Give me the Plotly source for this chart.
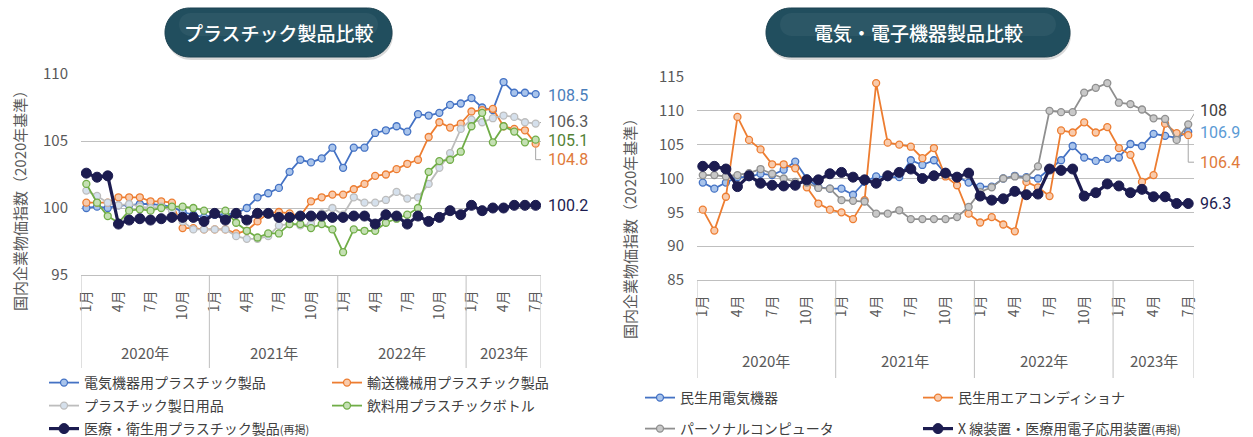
import plotly.graph_objects as go

W, H = 1253, 437
FONT = "Noto Sans CJK JP"
NUMFONT = "Roboto"

# ---- data: monthly index, Jan 2020 .. Jul 2023 ----
years = ["2020年", "2021年", "2022年", "2023年"]
months_per_year = [12, 12, 12, 7]
month_tick_text = ["1月", "4月", "7月", "10月"] * 3 + ["1月", "4月", "7月"]

# Plastic products
plastic_electric = [100.0, 100.1, 100.0, 100.2, 100.2, 100.3, 100.3, 100.2, 100.1, 99.7, 99.5, 99.3,
                    99.5, 99.5, 99.6, 100.0, 100.8, 101.1, 101.5, 102.7, 103.6, 103.4, 103.7, 104.5,
                    103.0, 104.5, 104.5, 105.6, 105.8, 106.1, 105.7, 107.0, 106.9, 107.1, 107.7, 107.8,
                    108.2, 107.5, 107.3, 109.4, 108.6, 108.6, 108.5]
plastic_transport = [100.4, 100.4, 100.4, 100.8, 100.8, 100.8, 100.5, 100.5, 100.4, 98.5, 98.5, 98.4,
                     98.4, 98.4, 98.1, 98.3, 99.0, 99.6, 99.7, 99.6, 99.4, 100.5, 100.8, 101.0,
                     101.0, 101.4, 101.8, 102.4, 102.5, 102.9, 103.3, 103.6, 105.3, 106.4, 106.0, 106.3,
                     107.2, 107.3, 107.4, 106.1, 105.9, 105.8, 104.8]
plastic_household = [101.3, 100.9, 100.4, 100.2, 100.3, 100.1, 100.0, 100.1, 99.8, 99.0, 98.4, 98.4,
                     98.4, 98.4, 97.9, 97.7, 97.7, 97.9, 98.7, 98.8, 98.7, 98.8, 99.6, 100.0,
                     99.5, 100.8, 100.4, 100.4, 100.6, 101.2, 100.7, 100.8, 101.8, 103.0, 104.1, 105.9,
                     106.6, 106.4, 106.7, 106.9, 106.8, 106.4, 106.3]
plastic_bottle = [101.8, 100.4, 99.4, 98.9, 99.8, 99.9, 99.8, 100.0, 100.1, 100.1, 100.0, 99.8,
                  99.6, 99.8, 98.9, 98.3, 97.8, 98.1, 98.1, 98.8, 98.8, 98.5, 98.8, 98.4,
                  96.7, 98.4, 98.3, 98.3, 98.9, 99.2, 99.5, 100.0, 102.7, 103.5, 103.6, 104.2,
                  106.1, 107.1, 104.9, 106.1, 105.7, 104.9, 105.1]
plastic_medical = [102.6, 102.3, 102.4, 98.8, 99.1, 99.2, 99.1, 99.2, 99.3, 99.3, 99.3, 99.0,
                   99.6, 99.1, 99.6, 99.1, 99.6, 99.6, 99.3, 99.3, 99.4, 99.4, 99.4, 99.3,
                   99.3, 99.4, 99.4, 98.8, 99.5, 99.4, 98.8, 99.4, 99.0, 99.3, 99.8, 99.5,
                   100.2, 99.8, 100.0, 100.0, 100.2, 100.2, 100.2]

# Electrical / electronic equipment
elec_appliance = [99.4, 98.5, 99.4, 100.2, 100.2, 100.7, 100.5, 101.3, 102.5, 100.0, 98.7, 98.5,
                  98.5, 97.6, 99.5, 100.3, 100.2, 100.2, 102.7, 102.0, 102.7, 100.7, 100.3, 99.4,
                  98.8, 98.8, 100.0, 100.4, 100.2, 100.0, 101.4, 102.7, 104.8, 103.1, 102.6, 102.9,
                  103.1, 105.1, 104.8, 106.6, 106.3, 106.0, 106.9]
elec_aircon = [95.4, 92.3, 97.3, 109.1, 105.7, 104.3, 102.1, 102.1, 101.5, 98.7, 96.3, 95.4,
               95.0, 94.0, 96.8, 114.1, 105.3, 105.0, 104.7, 103.0, 104.5, 100.3, 99.0, 94.8,
               93.5, 94.3, 93.2, 92.2, 99.5, 98.7, 97.4, 107.1, 106.8, 108.3, 106.8, 107.6,
               104.5, 103.5, 99.5, 100.5, 108.1, 106.7, 106.4]
elec_pc = [100.5, 100.5, 100.3, 100.5, 100.8, 101.4, 100.7, 100.0, 99.5, 99.4, 98.6, 98.5,
           96.8, 96.7, 96.6, 94.8, 94.8, 95.3, 94.0, 94.0, 94.0, 94.0, 94.3, 95.8,
           98.0, 98.7, 100.0, 100.3, 100.1, 101.8, 110.0, 109.8, 109.8, 112.7, 113.4, 114.1,
           111.2, 111.0, 110.2, 108.9, 108.8, 105.7, 108.0]
elec_xray = [101.8, 101.8, 101.4, 98.8, 100.4, 99.3, 99.0, 98.9, 99.0, 99.8, 99.8, 100.7,
             100.9, 100.2, 99.8, 99.3, 100.4, 100.9, 101.4, 100.0, 100.4, 100.8, 100.2, 100.8,
             97.4, 96.8, 97.0, 98.1, 97.6, 97.7, 101.4, 101.2, 101.4, 97.4, 97.9, 99.2,
             98.9, 97.9, 98.4, 97.3, 97.3, 96.3, 96.3]

n_months = sum(months_per_year)
idx = list(range(n_months))
tick_vals = idx[::3]


def px_x(p):
    return p / W


def px_y(p):
    return 1 - p / H


fig = go.Figure()


def add_series(y, name, color, fill, xa, ya, legend, width=1.8, size=7, mline=1.3):
    fig.add_trace(go.Scatter(
        x=idx, y=y, name=name, mode="lines+markers",
        line=dict(color=color, width=width),
        marker=dict(size=size, color=fill, line=dict(color=color, width=mline)),
        xaxis=xa, yaxis=ya, legend=legend, hoverinfo="skip"))


SMALL = "<span style='font-size:11px'>(再掲)</span>"

# left panel
add_series(plastic_electric, "電気機器用プラスチック製品", "#4472C4", "#A9C4EB", "x", "y", "legend")
add_series(plastic_transport, "輸送機械用プラスチック製品", "#ED7D31", "#F8CBAD", "x", "y", "legend")
add_series(plastic_household, "プラスチック製日用品", "#BDBDBD", "#D5E0EC", "x", "y", "legend2")
add_series(plastic_bottle, "飲料用プラスチックボトル", "#70AD47", "#C5E0B4", "x", "y", "legend2")
add_series(plastic_medical, "医療・衛生用プラスチック製品" + SMALL, "#1C1C50", "#1C1C50",
           "x", "y", "legend3", width=3.2, size=10, mline=1)

# right panel
add_series(elec_appliance, "民生用電気機器", "#4472C4", "#A9C4EB", "x2", "y2", "legend4")
add_series(elec_aircon, "民生用エアコンディショナ", "#ED7D31", "#F8CBAD", "x2", "y2", "legend4")
add_series(elec_pc, "パーソナルコンピュータ", "#8F8F8F", "#C8C8C8", "x2", "y2", "legend5")
add_series(elec_xray, "X 線装置・医療用電子応用装置" + SMALL, "#1C1C50", "#1C1C50",
           "x2", "y2", "legend5", width=3.2, size=10, mline=1)

grid = "#BFBFBF"
tickfont = dict(family=FONT, size=15, color="#595959")
monthfont = dict(family=FONT, size=14, color="#595959")

common_x = dict(range=[-0.5, n_months - 0.5], tickmode="array", tickvals=tick_vals,
                ticktext=month_tick_text, tickangle=-90, showgrid=False, zeroline=False,
                showline=True, linecolor=grid, linewidth=1, ticks="", tickfont=monthfont,
                ticklabelstandoff=9)
common_y = dict(dtick=5, showgrid=True, gridcolor=grid, gridwidth=1, zeroline=False,
                showline=False, ticks="", tickfont=tickfont, ticklabelstandoff=12)

fig.update_layout(
    width=W, height=H,
    margin=dict(l=0, r=0, t=0, b=0, autoexpand=False),
    paper_bgcolor="white", plot_bgcolor="white",
    showlegend=True,
    xaxis=dict(domain=[px_x(81), px_x(541)], anchor="y", **common_x),
    yaxis=dict(domain=[px_y(275), px_y(74)], anchor="x", range=[95, 110], **common_y),
    xaxis2=dict(domain=[px_x(697), px_x(1194)], anchor="y2", **common_x),
    yaxis2=dict(domain=[px_y(280), px_y(77)], anchor="x2", range=[85, 115], **common_y),
)

legend_style = dict(orientation="h", xanchor="left", yanchor="middle", bgcolor="rgba(0,0,0,0)",
                    font=dict(family=FONT, size=14, color="#404040"), traceorder="normal")
fig.update_layout(
    legend=dict(x=px_x(44), y=px_y(383), entrywidth=238, **legend_style),
    legend2=dict(x=px_x(44), y=px_y(406), entrywidth=238, **legend_style),
    legend3=dict(x=px_x(44), y=px_y(429), entrywidth=238, **legend_style),
    legend4=dict(x=px_x(640), y=px_y(398), entrywidth=233, **legend_style),
    legend5=dict(x=px_x(640), y=px_y(429), entrywidth=233, **legend_style),
)

shapes = []
annotations = []

# year dividers and year labels under each category axis
for xa, y_axis_px, y_div_end, y_year in (("x", 275, 368, 352), ("x2", 280, 378, 360)):
    start = 0
    bounds = [-0.5]
    for yr, n in zip(years, months_per_year):
        annotations.append(dict(x=start + (n - 1) / 2, y=px_y(y_year), xref=xa, yref="paper",
                                xanchor="center", yanchor="middle",
                                text=yr, showarrow=False,
                                font=dict(family=FONT, size=15, color="#595959")))
        start += n
        bounds.append(start - 0.5)
    for b in bounds:
        shapes.append(dict(type="line", xref=xa, yref="paper", x0=b, x1=b,
                           y0=px_y(y_axis_px), y1=px_y(y_div_end),
                           line=dict(color=grid, width=1)))

# vertical axis titles
for xp, yp in ((19, 197), (629, 225)):
    annotations.append(dict(x=px_x(xp), y=px_y(yp), xref="paper", yref="paper",
                            xanchor="center", yanchor="middle",
                            text="国内企業物価指数（2020年基準）", textangle=-90, showarrow=False,
                            font=dict(family=FONT, size=15, color="#595959")))


# end-of-line value labels
def end_label(series, color, xa, ya, yshift=0):
    v = series[-1]
    annotations.append(dict(x=n_months - 1, y=v, xref=xa, yref=ya, text=f"{v:g}",
                            showarrow=False, xanchor="left", yanchor="middle",
                            xshift=10, yshift=yshift,
                            font=dict(family=NUMFONT, size=16, color=color)))


def leader(series, xa, ya, path):
    shapes.append(dict(type="path", xref=xa, yref=ya, xsizemode="pixel", ysizemode="pixel",
                       xanchor=n_months - 1, yanchor=series[-1], path=path,
                       line=dict(color="#A6A6A6", width=1)))


end_label(plastic_electric, "#4A7EBB", "x", "y", yshift=-1)
end_label(plastic_household, "#595959", "x", "y", yshift=2)
end_label(plastic_bottle, "#548235", "x", "y", yshift=-1)
end_label(plastic_transport, "#E07A3A", "x", "y", yshift=-16)
end_label(plastic_medical, "#1C1C50", "x", "y")
leader(plastic_household, "x", "y", "M4,1 L9,1")
leader(plastic_transport, "x", "y", "M0,-4 L0,-16 L6,-16")

end_label(elec_pc, "#404040", "x2", "y2", yshift=14)
end_label(elec_appliance, "#5B9BD5", "x2", "y2", yshift=-1)
end_label(elec_aircon, "#E07A3A", "x2", "y2", yshift=-27)
end_label(elec_xray, "#1C1C50", "x2", "y2")
leader(elec_pc, "x2", "y2", "M2,4 L8,14 L13,14")
leader(elec_aircon, "x2", "y2", "M0,-4 L0,-27 L6,-27")


# title badges (pill shapes)
def pill_path(x0, y0, x1, y1):
    r = (y1 - y0) / 2
    k = 0.5523 * r
    yc = (y0 + y1) / 2
    pts = [
        ("M", [(x0 + r, y0)]),
        ("L", [(x1 - r, y0)]),
        ("C", [(x1 - r + k, y0), (x1, yc - k), (x1, yc)]),
        ("C", [(x1, yc + k), (x1 - r + k, y1), (x1 - r, y1)]),
        ("L", [(x0 + r, y1)]),
        ("C", [(x0 + r - k, y1), (x0, yc + k), (x0, yc)]),
        ("C", [(x0, yc - k), (x0 + r - k, y0), (x0 + r, y0)]),
    ]
    out = []
    for cmd, ps in pts:
        out.append(cmd + " ".join(f"{px_x(a):.5f},{px_y(b):.5f}" for a, b in ps))
    return " ".join(out) + " Z"


for (x0, x1, title) in ((165, 392, "プラスチック製品比較"), (766, 1070, "電気・電子機器製品比較")):
    shapes.append(dict(type="path", xref="paper", yref="paper", path=pill_path(x0 + 1, 10, x1 + 1, 60),
                       fillcolor="rgba(0,0,0,0.15)", line=dict(width=0), layer="above"))
    shapes.append(dict(type="path", xref="paper", yref="paper", path=pill_path(x0, 8, x1, 57),
                       fillcolor="#214E5E", line=dict(color="#1A4150", width=1), layer="above"))
    shapes.append(dict(type="path", xref="paper", yref="paper", path=pill_path(x0 + 14, 13, x1 - 14, 36),
                       fillcolor="rgba(255,255,255,0.05)", line=dict(width=0), layer="above"))
    annotations.append(dict(x=px_x((x0 + x1) / 2), y=px_y(33), xref="paper", yref="paper",
                            xanchor="center", yanchor="middle",
                            text=title, showarrow=False,
                            font=dict(family=FONT, size=19, color="white", weight=500)))

fig.update_layout(shapes=shapes, annotations=annotations)

fig.write_html("out.html")
